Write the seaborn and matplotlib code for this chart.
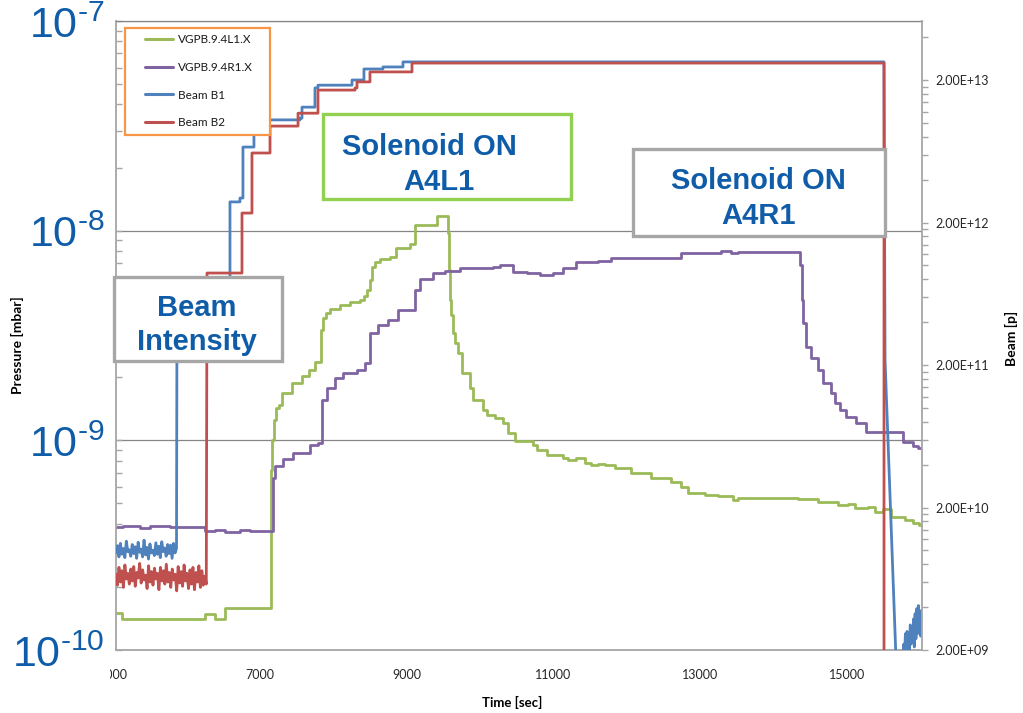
import numpy as np
import pandas as pd
import matplotlib
matplotlib.use("Agg")
import matplotlib.pyplot as plt
import seaborn as sns
from matplotlib.lines import Line2D
from matplotlib.patches import Rectangle
from matplotlib.ticker import FixedLocator, FuncFormatter, NullFormatter

# ---------------- data ----------------
series_names = ["VGPB.9.4L1.X", "VGPB.9.4R1.X", "Beam B1", "Beam B2"]
series_colors = ["#9BBB59", "#8064A2", "#4F81BD", "#C0504D"]

# Pressure gauge VGPB.9.4L1.X  (step changes: time [s], pressure [mbar])
green_time = [5037, 5118, 6250, 6387, 6523, 7150, 7164, 7191, 7219, 7260, 7300, 7437, 7573, 7668,
              7750, 7832, 7859, 7900, 7955, 8091, 8228, 8364, 8418, 8459, 8500, 8527, 8568, 8636,
              8773, 8855, 9045, 9114, 9414, 9564, 9577, 9591, 9605, 9632, 9659, 9700, 9755, 9864,
              9905, 10041, 10096, 10205, 10314, 10382, 10477, 10723, 10777, 10914, 11132, 11200,
              11309, 11432, 11514, 11609, 11705, 11841, 12059, 12332, 12604, 12741, 12836, 13068,
              13245, 13450, 13518, 14336, 14609, 14882, 15018, 15114, 15291, 15386, 15495, 15604,
              15795, 15904, 15980]
green_pressure = np.array([1.50, 1.40, 1.485, 1.40, 1.586, 7.22, 10.0, 12.5, 14.3, 14.7, 16.8, 18.8,
                           20.3, 21.6, 23.6, 33.6, 38.3, 40.5, 42.3, 44.2, 45.7, 46.7, 48.8, 52.1,
                           58.1, 67.1, 70.9, 73.2, 74.8, 82.6, 86.3, 106.4, 117.4, 97.4, 64.9, 46.7,
                           39.6, 32.5, 29.1, 26.1, 20.9, 17.8, 15.6, 13.9, 13.2, 12.8, 12.1, 10.8,
                           9.92, 9.50, 8.99, 8.51, 8.23, 8.06, 8.23, 7.79, 7.62, 7.70, 7.62, 7.38,
                           6.98, 6.61, 6.33, 5.99, 5.61, 5.48, 5.43, 5.19, 5.31, 5.25, 5.08, 4.91,
                           4.97, 4.76, 4.81, 4.55, 4.70, 4.31, 4.17, 4.03, 3.95]) * 1e-10

# Pressure gauge VGPB.9.4R1.X
purple_time = [5037, 5132, 5364, 5500, 5773, 6250, 6387, 6523, 6727, 6864, 7178, 7205, 7314, 7450,
               7682, 7791, 7846, 7914, 8023, 8132, 8323, 8432, 8500, 8609, 8745, 8882, 9114, 9182,
               9359, 9523, 9727, 10177, 10273, 10450, 10641, 10818, 10995, 11132, 11309, 11609,
               11787, 12741, 13286, 13423, 13518, 14363, 14391, 14404, 14445, 14513, 14609, 14677,
               14786, 14841, 14909, 14991, 15127, 15264, 15768, 15904, 15973]
purple_pressure = np.array([3.86, 3.90, 3.82, 3.90, 3.86, 3.69, 3.73, 3.65, 3.73, 3.69, 6.61, 7.54,
                            8.14, 8.70, 9.50, 9.71, 15.6, 17.8, 19.8, 20.9, 21.6, 23.4, 32.5, 35.5,
                            37.5, 41.8, 52.1, 58.8, 62.8, 64.2, 66.3, 67.1, 68.5, 63.5, 62.8, 61.4,
                            62.8, 66.3, 70.9, 71.5, 74.0, 78.2, 79.9, 78.2, 79.1, 68.5, 46.7, 36.3,
                            27.9, 24.7, 21.6, 18.8, 16.8, 15.1, 13.9, 12.9, 12.1, 11.0, 9.81, 9.39,
                            9.19]) * 1e-10

# Beam B1 intensity [p]
b1_noise_time = np.linspace(5037, 5862, 42)
b1_noise_value = np.array([9.6, 10.8, 9.0, 11.2, 9.4, 10.3, 8.9, 11.6, 9.8, 10.1, 9.1, 11.0, 9.5,
                           10.6, 8.8, 11.4, 9.7, 10.2, 9.0, 11.8, 9.3, 10.5, 8.7, 11.1, 9.6, 10.0,
                           9.2, 11.3, 9.4, 10.7, 8.9, 11.5, 9.8, 10.4, 9.1, 11.0, 9.5, 10.9, 8.8,
                           11.2, 9.6, 10.3]) * 1e9
b1_step_time = [5869, 6591, 6727, 6768, 6918, 6973, 7546, 7573, 7750, 7791, 8255, 8418, 8677, 8950]
b1_step_value = np.array([0.572, 2.79, 2.97, 6.77, 10.1, 10.5, 10.8, 12.9, 17.6, 18.4, 20.0, 23.9,
                          24.7, 26.8]) * 1e12
b1_dump_time = 15509
b1_tail_time = [15523, 15673, 15755, 15768, 15779, 15790, 15801, 15812, 15823, 15834, 15845, 15856,
                15867, 15878, 15889, 15900, 15911, 15922, 15933, 15944, 15955, 15966, 15977, 15988,
                15999, 16010, 16021, 16030]
b1_tail_value = np.array([217, 1.70, 1.5, 1.9, 2.2, 1.9, 2.6, 2.0, 2.7, 2.1, 2.6, 2.0, 3.0, 2.2,
                          2.9, 2.3, 3.3, 2.1, 3.6, 2.4, 3.9, 2.6, 4.1, 2.8, 3.6, 2.5, 3.8,
                          3.2]) * 1e9

# Beam B2 intensity [p]
b2_noise_time = np.linspace(5037, 6268, 62)
b2_noise_value = np.array([6.8, 5.7, 7.6, 6.0, 7.2, 5.5, 7.9, 6.3, 6.9, 5.8,
                           7.4, 6.1, 7.7, 5.6, 7.0, 6.4, 8.1, 5.9, 7.3, 6.2,
                           6.7, 5.4, 7.8, 6.0, 7.1, 5.7, 7.5, 6.3, 6.9, 5.3,
                           7.6, 6.1, 7.2, 5.8, 8.0, 6.0, 7.0, 5.5, 7.4, 6.2,
                           6.8, 5.2, 7.7, 5.9, 7.1, 5.6, 7.9, 6.1, 6.9, 5.4,
                           7.3, 5.8, 7.6, 5.3, 7.0, 6.0, 7.8, 5.5, 7.2, 5.7,
                           6.6, 5.8]) * 1e9
b2_step_time = [6278, 6755, 6891, 7137, 7519, 7791, 8296, 8323, 8500, 9073]
b2_step_value = np.array([0.884, 2.33, 6.15, 9.5, 11.7, 17.0, 17.6, 19.4, 22.8, 26.3]) * 1e12
b2_dump_time = 15509
b2_tail_time = [15509, 16030]
b2_tail_value = [1.0e9, 1.0e9]

t_end = 16030
x_range = (5037, 16027)
x_ticks_labeled = [7000, 9000, 11000, 13000, 15000]
x_first_label = 5000
p_ticks = [1e-10, 1e-9, 1e-8, 1e-7]
beam_ticks = [2e9, 2e10, 2e11, 2e12, 2e13]


def expand_steps(times, values, t_stop):
    xs, ys = [], []
    nxt = list(times[1:]) + [t_stop]
    for t, v, tn in zip(times, values, nxt):
        xs += [t, tn]
        ys += [v, v]
    return xs, ys


gx, gy = expand_steps(green_time, green_pressure, t_end)
px_, py_ = expand_steps(purple_time, purple_pressure, t_end)
df_p = pd.concat([
    pd.DataFrame({"Time": gx, "value": gy, "series": series_names[0]}),
    pd.DataFrame({"Time": px_, "value": py_, "series": series_names[1]}),
], ignore_index=True)

b1x, b1y = expand_steps(b1_step_time, b1_step_value, b1_dump_time)
b2x, b2y = expand_steps(b2_step_time, b2_step_value, b2_dump_time)
df_b = pd.concat([
    pd.DataFrame({"Time": list(b1_noise_time) + b1x + list(b1_tail_time),
                  "value": list(b1_noise_value) + b1y + list(b1_tail_value),
                  "series": series_names[2]}),
    pd.DataFrame({"Time": list(b2_noise_time) + b2x + list(b2_tail_time),
                  "value": list(b2_noise_value) + b2y + list(b2_tail_value),
                  "series": series_names[3]}),
], ignore_index=True)

# ---------------- style ----------------
sns.set_style("white")
plt.rcParams["font.family"] = ["Lato", "DejaVu Sans"]
plt.rcParams["mathtext.fontset"] = "custom"
plt.rcParams["mathtext.rm"] = "Liberation Sans"
plt.rcParams["mathtext.it"] = "Liberation Sans:italic"
plt.rcParams["mathtext.bf"] = "Liberation Sans:bold"

W, H = 1023, 713
fig = plt.figure(figsize=(W / 100, H / 100), dpi=100)
fig.patch.set_facecolor("white")
ax = fig.add_axes([116 / W, 63 / H, 806 / W, 629 / H])
ax2 = ax.twinx()

ax.set_yscale("log")
ax2.set_yscale("log")

sns.lineplot(data=df_p, x="Time", y="value", hue="series", hue_order=series_names[:2],
             palette=series_colors[:2], sort=False, estimator=None, linewidth=2.0,
             legend=False, ax=ax)
sns.lineplot(data=df_b, x="Time", y="value", hue="series", hue_order=series_names[2:],
             palette=series_colors[2:], sort=False, estimator=None, linewidth=2.0,
             legend=False, ax=ax2)

ax.set_xlim(*x_range)
ax.set_ylim(1e-10, 1e-7)
ax2.set_ylim(2e9, 5.19e13)

spine_c = "#A6A6A6"
grid_c = "#868686"
tick_txt = "#262626"
for s in ["left", "bottom"]:
    ax.spines[s].set_color(spine_c)
    ax.spines[s].set_linewidth(1.3)
ax.spines["top"].set_color(grid_c)
ax.spines["top"].set_linewidth(0.9)
ax.spines["right"].set_visible(False)
for s in ["left", "bottom", "top"]:
    ax2.spines[s].set_visible(False)
ax2.spines["right"].set_color(spine_c)
ax2.spines["right"].set_linewidth(1.3)

# x axis
ax.xaxis.set_major_locator(FixedLocator(x_ticks_labeled))
ax.xaxis.set_minor_locator(FixedLocator(np.arange(5400, 16100, 400)))
ax.xaxis.set_major_formatter(FuncFormatter(lambda v, _: f"{v:.0f}"))
ax.tick_params(axis="x", which="both", direction="in", length=3, width=1, color=spine_c,
               labelsize=9, labelcolor=tick_txt, pad=14)
# first time label sits just left of the plotted range
ax.annotate(f"{x_first_label}", xy=(x_first_label, 0), xycoords=("data", "axes fraction"),
            xytext=(0, -14), textcoords="offset points", ha="center", va="top",
            fontsize=9, color=tick_txt, annotation_clip=False, zorder=0.5)

# left (pressure) axis
ax.yaxis.set_major_locator(FixedLocator(p_ticks))
ax.yaxis.set_minor_locator(FixedLocator([k * 10.0 ** n for n in range(-10, -7) for k in range(2, 10)]))
ax.yaxis.set_major_formatter(FuncFormatter(lambda v, _: "$\\mathrm{10^{\u2010%d}}$" % abs(round(np.log10(v)))))
ax.yaxis.set_minor_formatter(NullFormatter())
ax.tick_params(axis="y", which="both", direction="in", length=4, width=1, color=spine_c)
ax.tick_params(axis="y", which="major", labelsize=31, labelcolor="#0f5ca8", pad=8)
ax.yaxis.grid(True, which="major", color=grid_c, linewidth=0.9)
ax.xaxis.grid(False)
ax.set_axisbelow(True)
for tk in ax.yaxis.get_major_ticks()[:1]:
    tk.label1.set_bbox(dict(facecolor="white", edgecolor="none", pad=4))

# right (beam) axis
ax2.yaxis.set_major_locator(FixedLocator(beam_ticks))
ax2.yaxis.set_minor_locator(FixedLocator([2e9 * k * 10.0 ** n for n in range(0, 5) for k in range(2, 10)]))
ax2.yaxis.set_major_formatter(FuncFormatter(lambda v, _: f"{v:.2E}"))
ax2.yaxis.set_minor_formatter(NullFormatter())
ax2.tick_params(axis="y", which="both", direction="out", length=4.5, width=1, color=spine_c,
                labelsize=9, labelcolor=tick_txt, pad=5)

ax.set_xlabel("Time [sec]", fontsize=9.5, fontweight="bold", color="black")
ax.xaxis.set_label_coords((512 - 116) / 806, (650 - 696) / 629)
ax.set_ylabel("Pressure [mbar]", fontsize=10, fontweight="bold", color="black")
ax.yaxis.set_label_coords((24 - 116) / 806, (650 - 345) / 629)
ax2.set_ylabel("Beam [p]", fontsize=10, fontweight="bold", color="black")
ax2.yaxis.set_label_coords((1005 - 116) / 806, (650 - 338) / 629)


def fx(p):
    return p / W


def fy(p):
    return 1 - p / H


# legend
handles = [Line2D([], [], color=c, lw=2.2) for c in series_colors]
leg_box = Rectangle((fx(125), fy(135)), 145 / W, 107 / H, transform=fig.transFigure,
                    facecolor="white", edgecolor="#F79646", linewidth=1.6, zorder=4)
ax2.add_artist(leg_box)
leg_box.set_clip_on(False)
leg = ax2.legend(handles, series_names, loc="upper left", bbox_to_anchor=(fx(145), fy(34)),
                 bbox_transform=fig.transFigure, frameon=False, borderpad=0, borderaxespad=0,
                 handlelength=2.4, handletextpad=0.4, labelspacing=1.42,
                 prop={"family": "Lato", "size": 8.5}, labelcolor="#1a1a1a")
leg.set_zorder(6)

# annotation boxes
ann_c = "#0f5ca8"
boxes = [((114, 277, 282, 361), "#A6A6A6"),
         ((323, 114, 571, 199), "#92D050"),
         ((633, 149, 885, 236), "#A6A6A6")]
for (x0, y0, x1, y1), ec in boxes:
    fig.add_artist(Rectangle((fx(x0), fy(y1)), (x1 - x0) / W, (y1 - y0) / H,
                             transform=fig.transFigure, facecolor="white", edgecolor=ec,
                             linewidth=2.4, zorder=10))
texts = [("Beam", 197, 316), ("Intensity", 197, 350),
         ("Solenoid ON", 429, 155), ("A4L1", 439, 190),
         ("Solenoid ON", 758, 189), ("A4R1", 759, 224)]
for s, x, y in texts:
    fig.text(fx(x), fy(y), s, ha="center", va="baseline", fontsize=21, fontweight="bold",
             color=ann_c, family="Liberation Sans", zorder=11)

fig.savefig("out.png", dpi=100)
